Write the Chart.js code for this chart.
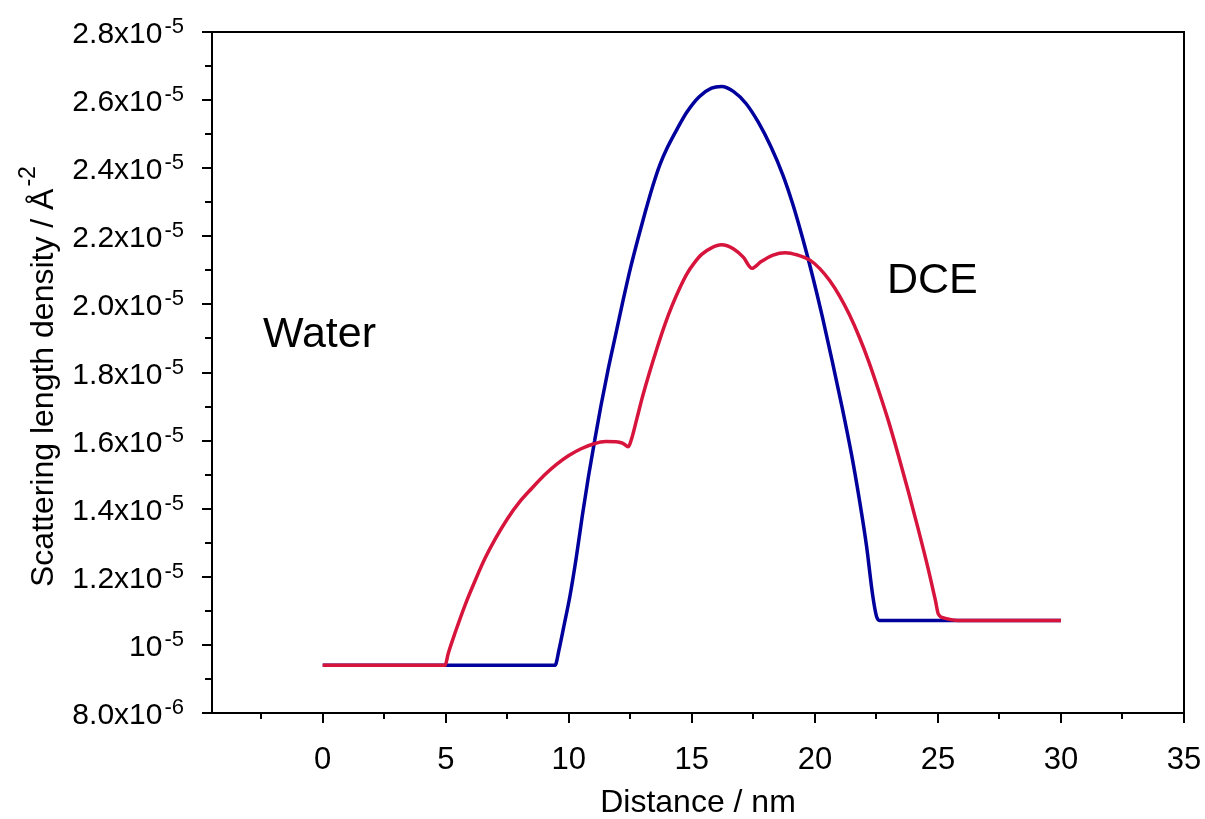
<!DOCTYPE html>
<html><head><meta charset="utf-8">
<script src="https://cdn.jsdelivr.net/npm/chart.js@4/dist/chart.umd.min.js"></script>
<style>html,body{margin:0;padding:0;background:#fff}canvas{display:block}</style>
</head><body>
<canvas id="c" width="1205" height="819"></canvas>
<script>
// Distance / nm
const blueX = [0, 9.44, 9.6, 9.8, 10.05, 10.3, 10.55, 10.8, 11.05, 11.3, 11.6, 11.9, 12.2, 12.5, 12.8, 13.1, 13.4, 13.7, 14.0, 14.4, 14.8, 15.3, 15.8, 16.2, 16.7, 17.2, 17.7, 18.2, 18.7, 19.1, 19.5, 19.9, 20.3, 20.7, 21.1, 21.5, 21.8, 22.1, 22.35, 22.5, 22.62, 30];
// Scattering length density, in units of 1e-6 Å^-2
const blueY = [9.40, 9.40, 9.85, 10.55, 11.45, 12.55, 13.8, 14.95, 16.0, 17.0, 18.1, 19.1, 20.1, 21.05, 21.9, 22.7, 23.45, 24.1, 24.6, 25.15, 25.65, 26.1, 26.35, 26.40, 26.25, 25.9, 25.35, 24.65, 23.8, 22.95, 21.95, 20.85, 19.65, 18.35, 17.0, 15.55, 14.3, 12.9, 11.45, 10.85, 10.72, 10.72];

const redX = [0, 4.97, 5.1, 5.4, 5.8, 6.2, 6.6, 7.0, 7.5, 8.0, 8.5, 9.0, 9.5, 10.0, 10.5, 11.0, 11.5, 12.0, 12.2, 12.42, 12.55, 12.75, 13.0, 13.3, 13.6, 13.9, 14.2, 14.5, 14.8, 15.1, 15.4, 15.8, 16.2, 16.7, 17.1, 17.44, 17.8, 18.3, 18.8, 19.3, 19.8, 20.2, 20.6, 21.0, 21.4, 21.8, 22.2, 22.6, 23.0, 23.4, 23.8, 24.2, 24.6, 24.9, 25.02, 25.3, 25.8, 30];
const redY = [9.40, 9.40, 9.75, 10.4, 11.2, 11.9, 12.55, 13.1, 13.7, 14.2, 14.6, 14.98, 15.3, 15.56, 15.76, 15.9, 15.97, 15.96, 15.92, 15.82, 16.05, 16.6, 17.3, 18.05, 18.75, 19.4, 19.97, 20.47, 20.9, 21.22, 21.47, 21.66, 21.75, 21.63, 21.38, 21.06, 21.25, 21.45, 21.52, 21.45, 21.3, 21.05, 20.7, 20.25, 19.7, 19.05, 18.3, 17.45, 16.55, 15.55, 14.5, 13.4, 12.25, 11.3, 10.9, 10.78, 10.72, 10.72];

const xMajorTicks = [0, 5, 10, 15, 20, 25, 30, 35];
const xMinorTicks = [-2.5, 2.5, 7.5, 12.5, 17.5, 22.5, 27.5, 32.5];
const yMajorTicks = [8, 10, 12, 14, 16, 18, 20, 22, 24, 26, 28];
const yMinorTicks = [9, 11, 13, 15, 17, 19, 21, 23, 25, 27];
const yTickMantissa = ['8.0x10', '10', '1.2x10', '1.4x10', '1.6x10', '1.8x10', '2.0x10', '2.2x10', '2.4x10', '2.6x10', '2.8x10'];
const yTickExponent = ['-6', '-5', '-5', '-5', '-5', '-5', '-5', '-5', '-5', '-5', '-5'];

const annotations = [
  {text: 'Water', x: -2.43, y: 18.75},
  {text: 'DCE', x: 22.93, y: 20.34}
];

const F = '"Liberation Sans", Arial, sans-serif';

const toPts = (xs, ys) => xs.map((v, i) => ({x: v, y: ys[i]}));

const overlay = {
  id: 'overlay',
  afterDraw(chart) {
    const {ctx, chartArea: a, scales: {x, y}} = chart;
    ctx.save();
    ctx.strokeStyle = '#000';
    ctx.lineWidth = 2;
    ctx.strokeRect(a.left, a.top, a.right - a.left, a.bottom - a.top);
    ctx.beginPath();
    xMajorTicks.forEach(v => { const p = Math.round(x.getPixelForValue(v)); ctx.moveTo(p, a.bottom); ctx.lineTo(p, a.bottom + 10); });
    xMinorTicks.forEach(v => { const p = Math.round(x.getPixelForValue(v)); ctx.moveTo(p, a.bottom); ctx.lineTo(p, a.bottom + 6); });
    yMajorTicks.forEach(v => { const p = Math.round(y.getPixelForValue(v)); ctx.moveTo(a.left - 10, p); ctx.lineTo(a.left, p); });
    yMinorTicks.forEach(v => { const p = Math.round(y.getPixelForValue(v)); ctx.moveTo(a.left - 7, p); ctx.lineTo(a.left, p); });
    ctx.stroke();

    ctx.fillStyle = '#000';
    // x tick labels
    ctx.font = '31px ' + F;
    ctx.textAlign = 'center';
    ctx.textBaseline = 'alphabetic';
    xMajorTicks.forEach(v => ctx.fillText(String(v), x.getPixelForValue(v), a.bottom + 56));
    // y tick labels with superscripts
    const rx = a.left - 28;
    yMajorTicks.forEach((v, i) => {
      const p = y.getPixelForValue(v);
      ctx.textAlign = 'right';
      ctx.textBaseline = 'alphabetic';
      ctx.font = '22px ' + F;
      const ew = ctx.measureText(yTickExponent[i]).width;
      ctx.fillText(yTickExponent[i], rx, p + 1);
      ctx.font = '30px ' + F;
      ctx.fillText(yTickMantissa[i], rx - ew - 2, p + 11);
    });
    // x title
    ctx.font = '32px ' + F;
    ctx.textAlign = 'center';
    ctx.fillText('Distance / nm', (a.left + a.right) / 2, 812);
    // y title (rotated)
    ctx.save();
    ctx.translate(53, 587);
    ctx.rotate(-Math.PI / 2);
    ctx.textAlign = 'left';
    ctx.font = '32px ' + F;
    const main = 'Scattering length density / Å';
    ctx.fillText(main, 0, 0);
    const mw = ctx.measureText(main).width;
    ctx.font = '23px ' + F;
    ctx.fillText('-2', mw + 2, -18);
    ctx.restore();
    // annotations
    ctx.font = '43px ' + F;
    ctx.textAlign = 'left';
    annotations.forEach(t => ctx.fillText(t.text, x.getPixelForValue(t.x), y.getPixelForValue(t.y)));
    ctx.restore();
  }
};

new Chart(document.getElementById('c'), {
  type: 'line',
  data: {
    datasets: [
      {data: toPts(redX, redY), borderColor: '#d7143c', borderWidth: 3.5, pointRadius: 0, cubicInterpolationMode: 'monotone', order: 0, fill: false},
      {data: toPts(blueX, blueY), borderColor: '#00009c', borderWidth: 3.5, pointRadius: 0, cubicInterpolationMode: 'monotone', order: 1, fill: false}
    ]
  },
  options: {
    responsive: false,
    animation: false,
    devicePixelRatio: 1,
    layout: {padding: {top: 32, right: 21, left: 0, bottom: 0}},
    plugins: {legend: {display: false}, tooltip: {enabled: false}, title: {display: false}},
    scales: {
      x: {
        type: 'linear', min: -4.5, max: 35,
        grid: {display: false}, border: {display: false},
        ticks: {display: false},
        afterFit: s => { s.height = 106; }
      },
      y: {
        type: 'linear', min: 8, max: 28,
        grid: {display: false}, border: {display: false},
        ticks: {display: false},
        afterFit: s => { s.width = 212; }
      }
    }
  },
  plugins: [overlay]
});
</script>
</body></html>
